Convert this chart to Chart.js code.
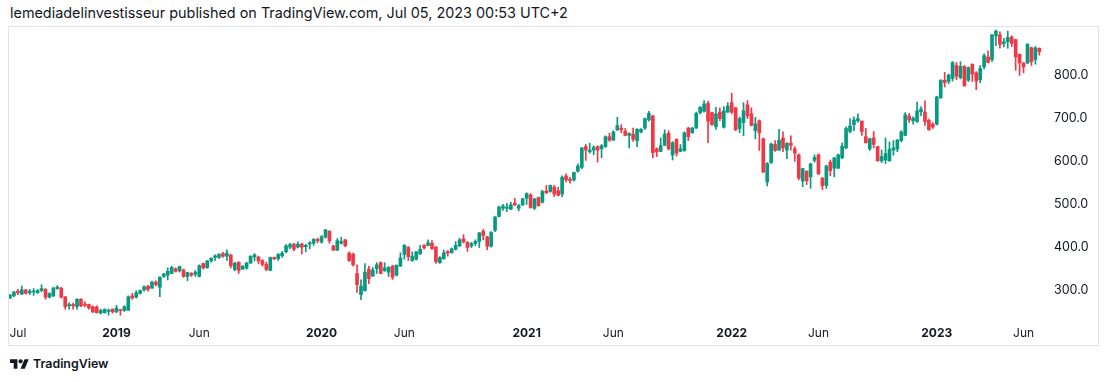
<!DOCTYPE html>
<html><head><meta charset="utf-8">
<script src="https://cdn.jsdelivr.net/npm/chart.js@4.4.0/dist/chart.umd.min.js"></script>
<style>
html,body{margin:0;padding:0;background:#fff;width:1110px;height:382px;overflow:hidden;font-family:Inter,"Liberation Sans",sans-serif;color:#131722}
#hdr{position:absolute;left:10px;top:4px;font-size:14.4px;line-height:17px;white-space:nowrap}
#frame{position:absolute;left:8px;top:26px;width:1091px;height:320px;border:1px solid #e0e3eb;box-sizing:border-box}
#wrap{position:absolute;left:9px;top:27px;width:1089px;height:318px}
#logo{position:absolute;left:10px;top:357px}
#foot{position:absolute;left:33px;top:356px;font-size:12.4px;line-height:16px;font-weight:600}
</style></head>
<body>
<div id="hdr">lemediadelinvestisseur published on TradingView.com, Jul 05, 2023 00:53 UTC+2</div>
<div id="frame"></div>
<div id="wrap"><canvas id="c" width="1089" height="318"></canvas></div>
<svg id="logo" width="19" height="15" viewBox="0 0 36 28"><path fill="#131722" d="M14 22H7V11H0V4h14v18zM28 22h-8l7.5-18h8L28 22z"/><circle fill="#131722" cx="20" cy="8" r="4"/></svg>
<div id="foot">TradingView</div>
<script>
// weekly candles, first week Jul 2 2018, last week Jul 3 2023
const opens = [
283,288,299,292,302,295,297,295,300,303,
285,288,305,306,286,265,268,263,280,269,
268,263,262,248,249,252,257,251,255,254,
255,288,285,294,302,311,306,320,308,333,
336,340,351,346,348,333,340,338,333,363,
353,369,377,377,386,380,383,349,366,350,
352,364,378,378,370,361,347,377,374,381,
390,401,408,401,408,402,408,410,419,413,
424,438,404,394,410,418,387,385,340,291,
300,350,334,351,365,346,343,357,336,357,
384,401,370,373,385,405,405,410,401,365,
374,391,388,396,404,420,412,404,409,414,
438,425,403,440,472,491,491,489,503,491,
499,514,522,491,516,505,531,530,540,532,
524,566,558,557,577,586,634,622,626,634,
629,634,657,649,673,677,670,660,663,648,
668,677,696,705,629,623,637,665,614,651,
623,625,677,666,677,713,716,734,713,680,
714,679,714,736,724,676,690,731,710,671,
694,652,552,597,639,626,654,626,642,629,
615,554,577,564,602,615,561,544,598,584,
584,608,631,669,685,694,693,657,629,654,
634,601,603,601,626,628,648,660,705,694,
692,715,714,695,686,686,747,788,785,792,
822,794,820,788,825,805,789,819,842,836,
891,893,873,877,888,882,848,828,828,863,
836,862];
const highs = [
291,298,303,311,303,303,305,303,314,305,
295,308,312,308,286,272,271,282,282,274,
269,265,265,257,258,257,258,266,256,265,
288,294,300,302,311,312,322,323,333,340,
353,357,353,357,350,343,342,347,360,364,
370,377,383,386,389,395,384,366,367,358,
366,381,386,380,372,366,378,378,386,391,
407,410,410,413,410,408,414,421,422,428,
442,439,405,421,424,419,390,387,360,325,
363,357,354,365,367,365,356,359,360,388,
407,402,390,391,405,407,418,416,402,379,
394,393,399,414,421,430,414,412,418,435,
442,426,437,472,496,500,502,505,514,500,
514,527,525,514,517,533,544,545,544,540,
566,571,563,575,594,632,639,642,636,636,
639,659,665,671,702,685,676,666,677,676,
676,700,716,707,631,654,673,671,646,652,
639,668,679,679,714,727,741,739,714,725,
724,727,736,758,725,703,736,741,724,702,
696,654,597,642,648,674,668,643,659,634,
617,584,578,595,615,617,563,591,603,609,
617,643,680,699,703,710,694,676,654,669,
635,626,654,645,648,651,671,713,711,703,
737,727,740,698,690,751,789,806,802,831,
829,831,822,819,826,808,822,849,856,894,
904,900,885,902,891,883,849,829,873,865,
866,863];
const lows = [
282,286,291,291,292,291,289,294,298,280,
283,286,303,283,257,257,257,257,263,263,
257,249,248,246,248,243,248,249,243,252,
254,280,283,292,299,299,305,311,286,331,
325,339,343,343,331,323,333,333,332,350,
352,366,370,375,377,370,353,346,340,349,
350,363,369,363,357,346,346,372,370,377,
388,397,393,399,385,390,397,405,411,410,
422,410,393,393,408,402,368,357,296,279,
299,316,333,340,339,345,333,326,334,356,
373,370,368,371,384,396,404,396,363,363,
373,380,387,394,402,411,391,400,404,400,
418,395,401,437,471,486,483,488,497,485,
497,500,491,488,496,503,525,528,518,520,
518,552,549,554,575,583,602,619,615,598,
608,632,646,648,671,666,659,631,646,634,
666,674,693,608,611,622,636,626,603,612,
622,623,648,665,676,710,714,643,683,674,
694,677,713,710,671,666,659,699,682,652,
625,574,543,595,623,625,622,606,626,600,
557,541,546,537,598,569,534,537,566,564,
583,606,629,666,671,690,660,642,625,631,
600,597,595,600,614,622,645,659,690,686,
690,706,683,672,676,684,746,772,780,786,
789,791,774,785,785,766,782,814,828,831,
868,862,865,862,866,811,799,805,826,822,
825,846];
const closes = [
290,297,295,302,294,299,299,300,305,285,
294,306,308,285,263,268,265,280,265,266,
260,251,249,254,257,255,251,260,254,263,
286,283,295,300,309,303,320,314,331,339,
345,354,345,356,333,342,336,343,358,353,
369,375,381,384,380,387,358,364,347,357,
364,380,383,369,361,349,377,374,384,387,
404,407,396,408,401,405,411,419,416,425,
441,416,394,416,414,404,370,360,314,311,
343,328,348,360,340,353,354,331,359,376,
405,379,380,390,396,399,411,397,367,377,
388,387,397,405,418,413,400,409,414,434,
428,403,435,471,494,496,494,499,499,497,
513,525,493,513,497,530,527,544,524,521,
563,557,555,574,589,631,626,626,632,626,
636,657,649,668,683,673,660,665,651,674,
674,699,711,620,622,636,663,629,643,619,
629,666,657,677,711,725,733,693,685,710,
699,717,728,714,673,699,717,705,683,687,
666,575,595,640,625,649,631,642,637,619,
561,583,555,594,609,571,543,589,578,608,
615,635,676,682,696,699,669,643,652,639,
601,611,618,628,631,649,668,708,696,700,
717,721,692,673,680,749,788,782,800,829,
797,820,775,817,802,786,815,845,829,893,
902,871,877,887,873,842,828,819,871,831,
863,854];
// time-axis labels (week index -> label)
const tickIdx = [2, 27, 48, 79, 100, 131, 153, 183, 205, 235, 257];
const tickLbl = ['Jul','2019','Jun','2020','Jun','2021','Jun','2022','Jun','2023','Jun'];
const priceTicks = [300, 400, 500, 600, 700, 800];

const UP = '#089981', DOWN = '#F23645';
const idx = opens.map((_, i) => i);
const colors = idx.map(i => closes[i] >= opens[i] ? UP : DOWN);

function noPad(s) { s.paddingTop = 0; s.paddingBottom = 0; s.paddingLeft = 0; s.paddingRight = 0; }

Chart.defaults.font.family = 'Inter, "Liberation Sans", sans-serif';
new Chart(document.getElementById('c'), {
  type: 'bar',
  data: {
    datasets: [
      { label: 'body', data: idx.map(i => ({x: i, y: [opens[i], closes[i]]})),
        backgroundColor: colors, barThickness: 3, minBarLength: 1, grouped: false, order: 1 },
      { label: 'wick', data: idx.map(i => ({x: i, y: [lows[i], highs[i]]})),
        backgroundColor: colors, barThickness: 1, grouped: false, order: 2 }
    ]
  },
  options: {
    responsive: false, animation: false, devicePixelRatio: 1,
    plugins: { legend: { display: false }, tooltip: { enabled: false } },
    layout: { padding: 0 },
    scales: {
      x: {
        type: 'linear', min: -0.25, max: 263.2, offset: false,
        grid: { display: false, drawTicks: false }, border: { display: false },
        afterBuildTicks: s => { s.ticks = tickIdx.map(v => ({ value: v })); },
        afterFit: s => { s.height = 27; noPad(s); },
        ticks: {
          autoSkip: false, maxRotation: 0, minRotation: 0, padding: 8, color: '#131722',
          callback: v => tickLbl[tickIdx.indexOf(v)],
          font: c => ({ size: 12, weight: (c.tick && /^\d{4}$/.test(tickLbl[tickIdx.indexOf(c.tick.value)])) ? 'bold' : 'normal' })
        }
      },
      y: {
        position: 'right', min: 236.7, max: 911.3,
        grid: { display: false, drawTicks: false }, border: { display: false },
        afterBuildTicks: s => { s.ticks = priceTicks.map(v => ({ value: v })); },
        afterFit: s => { s.width = 50; noPad(s); },
        ticks: { padding: 6, color: '#131722', font: { size: 12.5 }, callback: v => Number(v).toFixed(1) }
      }
    }
  }
});
</script>
</body></html>
